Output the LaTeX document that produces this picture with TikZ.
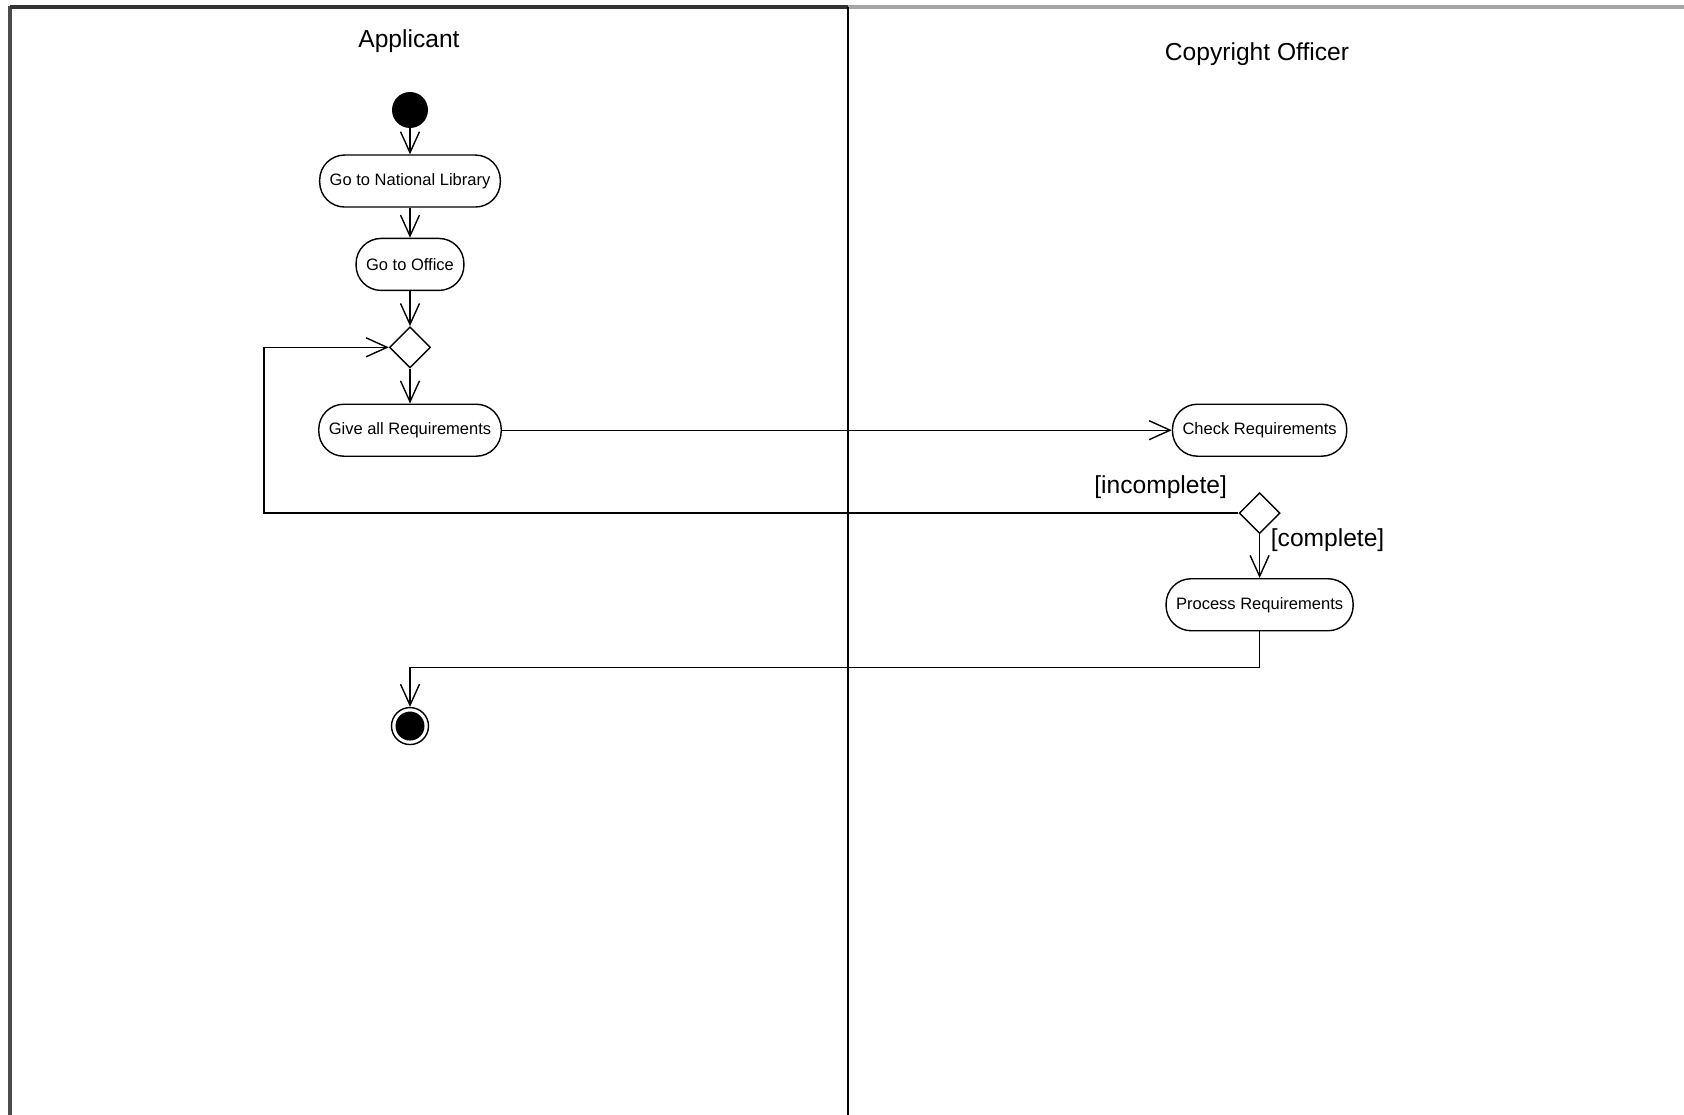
\documentclass[tikz,border=0pt]{standalone}
\usepackage{fontspec}
\setmainfont{Liberation Sans}
\usetikzlibrary{arrows.meta, positioning, shapes.geometric}

\begin{document}
\begin{tikzpicture}[
    x=0.02cm, y=-0.02cm,
    >={Straight Barb[length=4.2mm, width=3.8mm]},
    font=\fontsize{9.4}{11}\selectfont,
    action/.style = {draw, rectangle, rounded corners=0.5cm, minimum height=1.04cm, inner xsep=0.2cm, line width=0.8pt},
    choice/.style = {draw, diamond, aspect=1, minimum size=0.82cm, inner sep=0pt, line width=0.8pt},
    startnode/.style = {circle, fill=black, minimum size=0.72cm, inner sep=0pt},
    stopnode/.style = {circle, draw, line width=0.8pt, minimum size=0.74cm, inner sep=0pt, path picture={\fill (path picture bounding box.center) circle (0.29cm);}},
    lane/.style = {font=\fontsize{14}{16}\selectfont},
    guard/.style = {font=\fontsize{14}{16}\selectfont},
    arrow/.style = {->, line width=0.8pt}
]
\useasboundingbox (0,0) rectangle (1684,1115);

% =========================================================
% SWIMLANES
% =========================================================
\draw[gray!60!black, line width=2.2pt] (10,6) -- (10,1115);
\draw[black!80, line width=1.8pt] (10,7) -- (848,7);
\draw[gray!70, line width=2pt] (848,7) -- (1684,7);
\draw[line width=1pt] (848,7) -- (848,1115);

\node[lane] (applicant) at (409,41) {Applicant};
\node[lane] (officer) at (1257,54) {Copyright Officer};

% =========================================================
% APPLICANT LANE
% =========================================================
\node[startnode] (start) at (410,110) {};
\node[action, below=0.52cm of start] (library) {Go to National Library};
\node[action, below=0.60cm of library] (office) {Go to Office};
\node[choice, below=0.70cm of office] (merge) {};
\node[action, below=0.70cm of merge] (give) {Give all Requirements};
\node[stopnode, below=5.0cm of give] (stop) {};

% =========================================================
% OFFICER LANE
% =========================================================
\node[action, right=13.4cm of give] (check) {Check Requirements};
\node[choice, below=0.70cm of check] (decide) {};
\node[action, below=0.875cm of decide] (process) {Process Requirements};

% Guards
\node[guard] at ([xshift=-1.98cm, yshift=0.52cm]decide) {[incomplete]};
\node[guard] at ([xshift=1.36cm, yshift=-0.54cm]decide) {[complete]};

% =========================================================
% WIRING
% =========================================================
\draw[arrow] (start) -- (library);
\draw[arrow] (library) -- (office);
\draw[arrow] (office) -- (merge);
\draw[arrow] (merge) -- (give);
\draw[arrow] (give) -- (check);
\draw[arrow] (decide) -- (process);

% Loop back: up the left side into the merge
\coordinate (loopx) at (264,0);
\draw[arrow] (decide.west) -- (decide.west -| loopx) |- (merge.west);

% Process to final node
\draw[arrow] (process.south) -- ++(0,-0.72cm) -| (stop.north);

\end{tikzpicture}
\end{document}
